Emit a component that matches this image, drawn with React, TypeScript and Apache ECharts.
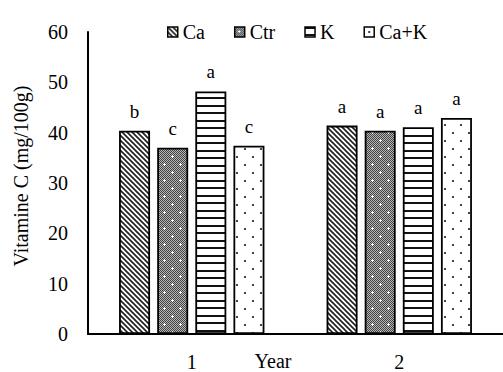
import React, { useEffect, useRef } from 'react';
import * as echarts from 'echarts';

const categories = ['1', '2'];
const seriesNames = ['Ca', 'Ctr', 'K', 'Ca+K'];
const caValues = [40.4, 41.4];
const ctrValues = [37.0, 40.4];
const kValues = [48.2, 41.1];
const cakValues = [37.4, 42.9];
const caLetters = ['b', 'a'];
const ctrLetters = ['c', 'a'];
const kLetters = ['a', 'a'];
const cakLetters = ['c', 'a'];
const yMin = 0;
const yMax = 60;
const yInterval = 10;
const yTitle = 'Vitamine C (mg/100g)';
const xTitle = 'Year';

const FONT = '"Liberation Serif", "Times New Roman", serif';

function makeCanvas(w: number, h: number) {
  const c = document.createElement('canvas');
  c.width = w;
  c.height = h;
  const ctx = c.getContext('2d')!;
  ctx.fillStyle = '#fff';
  ctx.fillRect(0, 0, w, h);
  return { c, ctx };
}

function diagPattern() {
  const n = 5;
  const { c, ctx } = makeCanvas(n, n);
  ctx.strokeStyle = '#222';
  ctx.lineWidth = 1.7;
  for (const o of [-n, 0, n]) {
    ctx.beginPath();
    ctx.moveTo(o - 1, -1);
    ctx.lineTo(o + n + 1, n + 1);
    ctx.stroke();
  }
  return c;
}

function ctrPattern() {
  const n = 16;
  const { c, ctx } = makeCanvas(n, n);
  for (let y = 0; y < n; y++) {
    for (let x = 0; x < n; x++) {
      ctx.fillStyle = (x + y) % 2 === 0 ? '#444' : '#b4b4b4';
      ctx.fillRect(x, y, 1, 1);
    }
  }
  ctx.fillStyle = '#fff';
  for (const [cx, cy] of [[4, 4], [12, 12]]) {
    ctx.fillRect(cx, cy, 1, 1);
    ctx.fillRect(cx - 1, cy, 1, 1);
    ctx.fillRect(cx + 1, cy, 1, 1);
    ctx.fillRect(cx, cy - 1, 1, 1);
    ctx.fillRect(cx, cy + 1, 1, 1);
  }
  return c;
}

function hPattern() {
  const { c, ctx } = makeCanvas(4, 15);
  ctx.fillStyle = '#111';
  ctx.fillRect(0, 0, 4, 2);
  ctx.fillRect(0, 7, 4, 2);
  return c;
}

function dotPattern() {
  const n = 16;
  const { c, ctx } = makeCanvas(n, n);
  ctx.fillStyle = '#444';
  ctx.fillRect(4, 4, 2, 2);
  ctx.fillRect(12, 12, 2, 2);
  return c;
}

export default function App() {
  const ref = useRef<HTMLDivElement>(null);
  useEffect(() => {
    if (!ref.current) return;
    const chart = echarts.init(ref.current, null, { renderer: 'svg' });
    const patterns = [diagPattern(), ctrPattern(), hPattern(), dotPattern()];
    const values = [caValues, ctrValues, kValues, cakValues];
    const letters = [caLetters, ctrLetters, kLetters, cakLetters];
    const series = seriesNames.map((name, i) => ({
      name,
      type: 'bar',
      data: values[i],
      barWidth: 31,
      barGap: '23%',
      itemStyle: {
        color: { image: patterns[i], repeat: 'repeat' },
        borderColor: '#000',
        borderWidth: 1.8,
      },
      label: {
        show: true,
        position: 'top',
        distance: 10,
        color: '#000',
        fontFamily: FONT,
        fontSize: 19,
        formatter: (p: any) => letters[i][p.dataIndex],
      },
    }));
    chart.setOption({
      animation: false,
      backgroundColor: '#fff',
      textStyle: { fontFamily: FONT, color: '#000' },
      legend: {
        data: seriesNames,
        left: 162,
        top: 17,
        itemWidth: 10,
        itemHeight: 10,
        itemGap: 29,
        icon: 'rect',
        itemStyle: { borderColor: '#000', borderWidth: 1.5 },
        textStyle: { fontFamily: FONT, fontSize: 20, color: '#000' },
      },
      grid: { left: 88, top: 32, width: 418, height: 305, containLabel: false },
      xAxis: {
        type: 'category',
        data: categories,
        axisLine: { lineStyle: { color: '#000', width: 2 } },
        axisTick: { show: false },
        axisLabel: { margin: 18, fontFamily: FONT, fontSize: 20, color: '#000' },
        splitLine: { show: false },
      },
      yAxis: {
        type: 'value',
        min: yMin,
        max: yMax,
        interval: yInterval,
        axisLine: { show: true, lineStyle: { color: '#000', width: 2 } },
        axisTick: { show: false },
        axisLabel: { margin: 20, fontFamily: FONT, fontSize: 20, color: '#000' },
        splitLine: { show: false },
      },
      graphic: [
        {
          type: 'text',
          x: 21,
          y: 176,
          rotation: Math.PI / 2,
          style: {
            text: yTitle,
            fontFamily: FONT,
            fontSize: 20,
            fill: '#000',
            align: 'center',
            verticalAlign: 'middle',
          },
        },
        {
          type: 'text',
          x: 273,
          y: 361,
          style: {
            text: xTitle,
            fontFamily: FONT,
            fontSize: 20,
            fill: '#000',
            align: 'center',
            verticalAlign: 'middle',
          },
        },
      ],
      series,
    });
    return () => chart.dispose();
  }, []);
  return (
    <div
      ref={ref}
      style={{ position: 'fixed', left: 0, top: 0, width: 503, height: 372 }}
    />
  );
}
